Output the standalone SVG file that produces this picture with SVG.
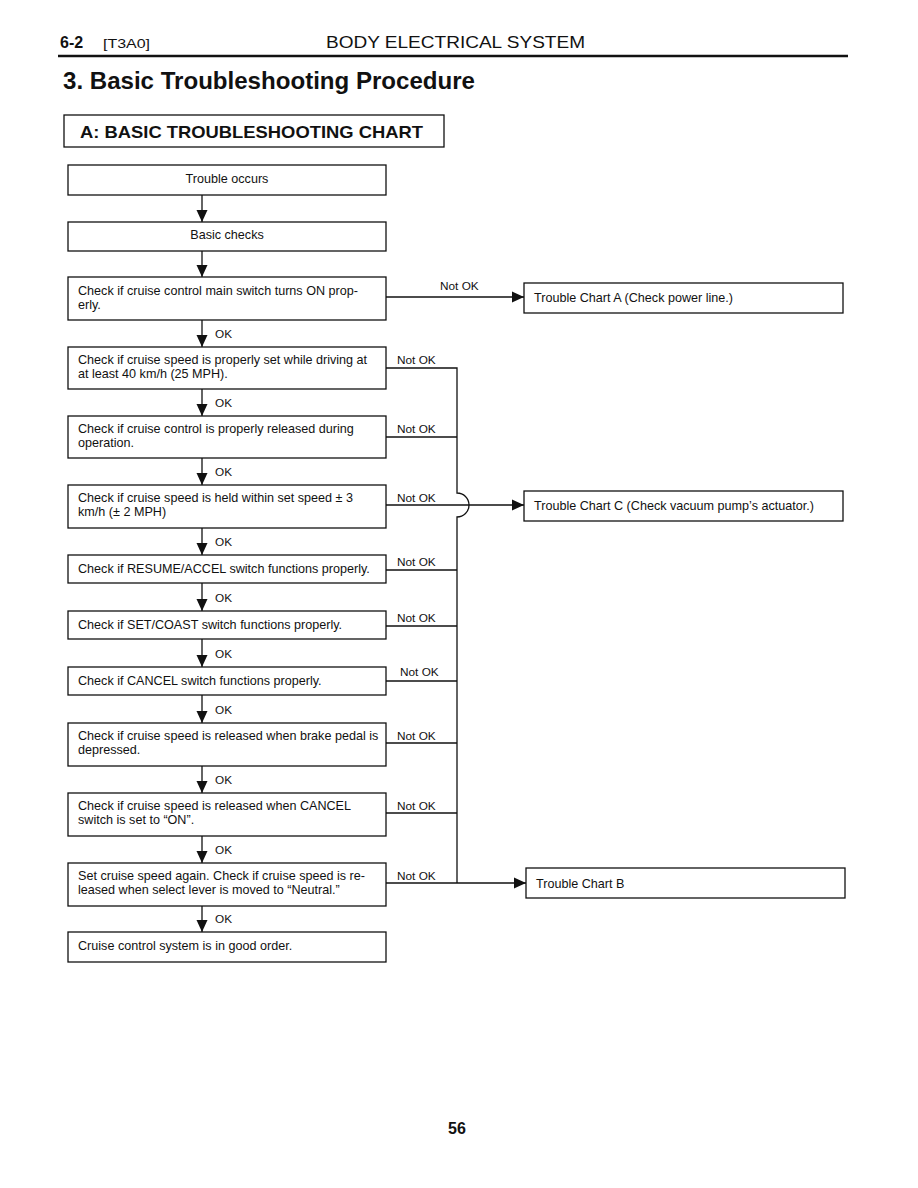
<svg xmlns="http://www.w3.org/2000/svg" width="918" height="1188" viewBox="0 0 918 1188">
<style>
text{font-family:"Liberation Sans",Arial,sans-serif;fill:#111}
.box{fill:#fff;stroke:#111;stroke-width:1.3}
.t{font-size:12.6px}
.lbl{font-size:11.8px}
.ln{fill:none;stroke:#111;stroke-width:1.3}
</style>
<defs>
<marker id="ah" markerUnits="userSpaceOnUse" markerWidth="12" markerHeight="12" viewBox="0 0 12 12" refX="12" refY="6" orient="auto">
<path d="M0,0.5 L12,6 L0,11.5 Z" fill="#111"/>
</marker>
</defs>
<rect width="918" height="1188" fill="#fff"/>
<g id="header">
<text x="60" y="48" style="font-size:16px;font-weight:bold">6-2</text>
<text x="103" y="48" style="font-size:13px" textLength="47" lengthAdjust="spacingAndGlyphs">[T3A0]</text>
<text x="326" y="48" style="font-size:17px" textLength="259" lengthAdjust="spacingAndGlyphs">BODY ELECTRICAL SYSTEM</text>
<line x1="58" y1="56" x2="848" y2="56" stroke="#111" stroke-width="2.5"/>
<text x="63" y="89" style="font-size:23px;font-weight:bold" textLength="412" lengthAdjust="spacingAndGlyphs">3. Basic Troubleshooting Procedure</text>
<rect x="64" y="115" width="380" height="32" class="box"/>
<text x="80" y="138" style="font-size:17px;font-weight:bold" textLength="343" lengthAdjust="spacingAndGlyphs">A: BASIC TROUBLESHOOTING CHART</text>
</g>
<g id="connectors">
<line x1="202" y1="195" x2="202" y2="222" class="ln" marker-end="url(#ah)"/>
<line x1="202" y1="251" x2="202" y2="277" class="ln" marker-end="url(#ah)"/>
<line x1="202" y1="320" x2="202" y2="347" class="ln" marker-end="url(#ah)"/>
<line x1="202" y1="389" x2="202" y2="416" class="ln" marker-end="url(#ah)"/>
<line x1="202" y1="458" x2="202" y2="485" class="ln" marker-end="url(#ah)"/>
<line x1="202" y1="528" x2="202" y2="555" class="ln" marker-end="url(#ah)"/>
<line x1="202" y1="583" x2="202" y2="611" class="ln" marker-end="url(#ah)"/>
<line x1="202" y1="639" x2="202" y2="667" class="ln" marker-end="url(#ah)"/>
<line x1="202" y1="695" x2="202" y2="723" class="ln" marker-end="url(#ah)"/>
<line x1="202" y1="766" x2="202" y2="793" class="ln" marker-end="url(#ah)"/>
<line x1="202" y1="836" x2="202" y2="863" class="ln" marker-end="url(#ah)"/>
<line x1="202" y1="906" x2="202" y2="932" class="ln" marker-end="url(#ah)"/>
<text x="215" y="338" class="lbl">OK</text>
<text x="215" y="407" class="lbl">OK</text>
<text x="215" y="476" class="lbl">OK</text>
<text x="215" y="546" class="lbl">OK</text>
<text x="215" y="602" class="lbl">OK</text>
<text x="215" y="658" class="lbl">OK</text>
<text x="215" y="714" class="lbl">OK</text>
<text x="215" y="784" class="lbl">OK</text>
<text x="215" y="854" class="lbl">OK</text>
<text x="215" y="923" class="lbl">OK</text>
<line x1="386" y1="297" x2="524" y2="297" class="ln" marker-end="url(#ah)"/>
<text x="440" y="290" class="lbl">Not OK</text>
<path d="M386,368 H457 V493 A12,12 0 0 1 457,517 V883" class="ln"/>
<line x1="386" y1="437" x2="457" y2="437" class="ln"/>
<line x1="386" y1="505" x2="524" y2="505" class="ln" marker-end="url(#ah)"/>
<line x1="386" y1="570" x2="457" y2="570" class="ln"/>
<line x1="386" y1="626" x2="457" y2="626" class="ln"/>
<line x1="386" y1="681" x2="457" y2="681" class="ln"/>
<line x1="386" y1="743" x2="457" y2="743" class="ln"/>
<line x1="386" y1="813" x2="457" y2="813" class="ln"/>
<line x1="386" y1="883" x2="526" y2="883" class="ln" marker-end="url(#ah)"/>
<text x="397" y="364" class="lbl">Not OK</text>
<text x="397" y="433" class="lbl">Not OK</text>
<text x="397" y="502" class="lbl">Not OK</text>
<text x="397" y="566" class="lbl">Not OK</text>
<text x="397" y="622" class="lbl">Not OK</text>
<text x="400" y="676" class="lbl">Not OK</text>
<text x="397" y="740" class="lbl">Not OK</text>
<text x="397" y="810" class="lbl">Not OK</text>
<text x="397" y="880" class="lbl">Not OK</text>
</g>
<g id="n1"><rect x="68" y="165" width="318" height="30" class="box"/><text x="227" y="183" class="t" text-anchor="middle">Trouble occurs</text></g>
<g id="n2"><rect x="68" y="222" width="318" height="29" class="box"/><text x="227" y="239" class="t" text-anchor="middle">Basic checks</text></g>
<g id="n3"><rect x="68" y="277" width="318" height="43" class="box"/><text x="78" y="295" class="t">Check if cruise control main switch turns ON prop-</text><text x="78" y="309" class="t">erly.</text></g>
<g id="n4"><rect x="68" y="347" width="318" height="42" class="box"/><text x="78" y="364" class="t">Check if cruise speed is properly set while driving at</text><text x="78" y="378" class="t">at least 40 km/h (25 MPH).</text></g>
<g id="n5"><rect x="68" y="416" width="318" height="42" class="box"/><text x="78" y="433" class="t">Check if cruise control is properly released during</text><text x="78" y="447" class="t">operation.</text></g>
<g id="n6"><rect x="68" y="485" width="318" height="43" class="box"/><text x="78" y="502" class="t">Check if cruise speed is held within set speed ± 3</text><text x="78" y="516" class="t">km/h (± 2 MPH)</text></g>
<g id="n7"><rect x="68" y="555" width="318" height="28" class="box"/><text x="78" y="573" class="t">Check if RESUME/ACCEL switch functions properly.</text></g>
<g id="n8"><rect x="68" y="611" width="318" height="28" class="box"/><text x="78" y="629" class="t">Check if SET/COAST switch functions properly.</text></g>
<g id="n9"><rect x="68" y="667" width="318" height="28" class="box"/><text x="78" y="685" class="t">Check if CANCEL switch functions properly.</text></g>
<g id="n10"><rect x="68" y="723" width="318" height="43" class="box"/><text x="78" y="740" class="t">Check if cruise speed is released when brake pedal is</text><text x="78" y="754" class="t">depressed.</text></g>
<g id="n11"><rect x="68" y="793" width="318" height="43" class="box"/><text x="78" y="810" class="t">Check if cruise speed is released when CANCEL</text><text x="78" y="824" class="t">switch is set to “ON”.</text></g>
<g id="n12"><rect x="68" y="863" width="318" height="43" class="box"/><text x="78" y="880" class="t">Set cruise speed again. Check if cruise speed is re-</text><text x="78" y="894" class="t">leased when select lever is moved to “Neutral.”</text></g>
<g id="n13"><rect x="68" y="932" width="318" height="30" class="box"/><text x="78" y="950" class="t">Cruise control system is in good order.</text></g>
<g id="chartA"><rect x="524" y="283" width="319" height="30" class="box"/><text x="534" y="302" class="t">Trouble Chart A (Check power line.)</text></g>
<g id="chartC"><rect x="524" y="491" width="319" height="30" class="box"/><text x="534" y="510" class="t">Trouble Chart C (Check vacuum pump’s actuator.)</text></g>
<g id="chartB"><rect x="526" y="868" width="319" height="30" class="box"/><text x="536" y="888" class="t">Trouble Chart B</text></g>
<text x="457" y="1134" text-anchor="middle" style="font-size:16px;font-weight:bold">56</text>
</svg>
